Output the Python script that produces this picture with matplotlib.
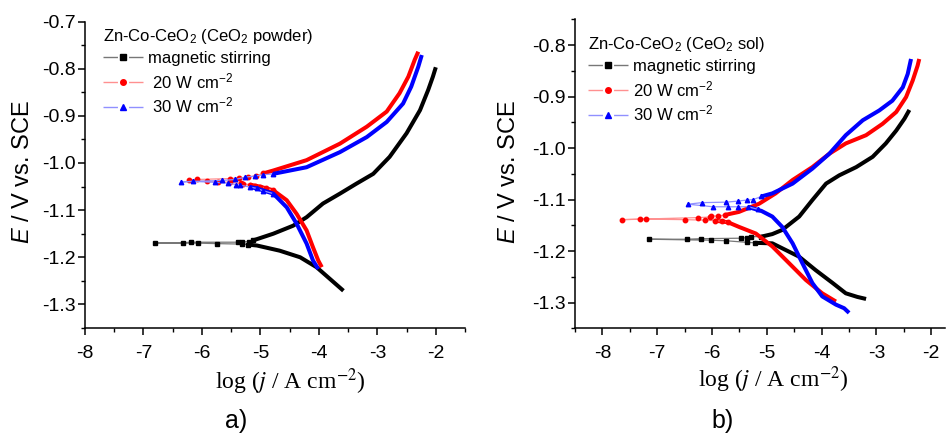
import matplotlib
matplotlib.use("Agg")
import matplotlib.pyplot as plt
from matplotlib.lines import Line2D
from matplotlib.ticker import MultipleLocator, FormatStrFormatter

plt.rcParams['font.family'] = ['Liberation Sans', 'DejaVu Sans']
plt.rcParams['axes.unicode_minus'] = False
plt.rcParams['mathtext.fontset'] = 'custom'
plt.rcParams['mathtext.rm'] = 'Liberation Sans'
plt.rcParams['mathtext.it'] = 'Liberation Sans:italic'
plt.rcParams['mathtext.bf'] = 'Liberation Sans:bold'

# ---- a) CeO2 powder : log j vs E ----
# magnetic stirring
a_stir_cath_x = [-3.58, -3.81, -4.04, -4.32, -4.67, -5.06, -5.22]
a_stir_cath_y = [-1.271, -1.246, -1.221, -1.200, -1.186, -1.175, -1.173]
a_stir_pts_x = [-5.22, -5.32, -5.75, -6.07, -6.80, -6.32, -6.19, -5.39, -5.32, -5.19, -5.12]
a_stir_pts_y = [-1.173, -1.172, -1.171, -1.170, -1.170, -1.169, -1.168, -1.168, -1.167, -1.167, -1.164]
a_stir_anod_x = [-5.12, -4.78, -4.44, -4.21, -3.93, -3.64, -3.36, -3.07, -2.79, -2.50,
                 -2.27, -2.13, -2.05, -2.00]
a_stir_anod_y = [-1.164, -1.150, -1.133, -1.115, -1.086, -1.065, -1.044, -1.023, -0.987, -0.937,
                 -0.888, -0.845, -0.817, -0.797]
# 20 W cm-2
a_20_cath_x = [-3.95, -4.01, -4.10, -4.21, -4.38, -4.55, -4.78, -5.01, -5.18]
a_20_cath_y = [-1.221, -1.207, -1.179, -1.143, -1.108, -1.079, -1.058, -1.050, -1.046]
a_20_pts_x = [-4.78, -4.90, -5.01, -5.10, -5.18, -5.29, -5.34, -5.52, -5.72, -5.92, -6.23,
              -6.08, -5.52, -5.36, -5.21, -5.08, -4.95]
a_20_pts_y = [-1.058, -1.054, -1.050, -1.048, -1.046, -1.044, -1.043, -1.041, -1.040, -1.039, -1.037,
              -1.035, -1.033, -1.032, -1.030, -1.027, -1.022]
a_20_anod_x = [-4.95, -4.78, -4.21, -3.64, -3.18, -2.84, -2.62, -2.47, -2.36, -2.30]
a_20_anod_y = [-1.022, -1.016, -0.994, -0.959, -0.923, -0.891, -0.852, -0.817, -0.781, -0.764]
# 30 W cm-2
a_30_cath_x = [-4.01, -4.10, -4.21, -4.38, -4.55, -4.78, -5.06, -5.18]
a_30_cath_y = [-1.225, -1.207, -1.171, -1.129, -1.094, -1.065, -1.054, -1.051]
a_30_pts_x = [-4.78, -4.95, -5.06, -5.18, -5.35, -5.41, -5.55, -5.78, -6.15, -6.35,
              -5.65, -5.43, -5.26, -5.10, -4.95, -4.78]
a_30_pts_y = [-1.065, -1.059, -1.054, -1.051, -1.047, -1.046, -1.043, -1.041, -1.039, -1.040,
              -1.037, -1.035, -1.030, -1.028, -1.025, -1.023]
a_30_anod_x = [-4.78, -4.21, -3.64, -3.18, -2.84, -2.56, -2.42, -2.30, -2.24]
a_30_anod_y = [-1.023, -1.009, -0.977, -0.945, -0.913, -0.874, -0.838, -0.796, -0.771]

# ---- b) CeO2 sol ----
b_stir_cath_x = [-3.19, -3.35, -3.56, -3.80, -4.11, -4.41, -4.90, -5.22]
b_stir_cath_y = [-1.293, -1.289, -1.282, -1.262, -1.237, -1.211, -1.185, -1.184]
b_stir_pts_x = [-5.22, -5.37, -5.74, -6.01, -7.15, -6.46, -6.21, -5.47, -5.37, -5.28, -5.10]
b_stir_pts_y = [-1.184, -1.183, -1.180, -1.179, -1.177, -1.177, -1.176, -1.175, -1.174, -1.172, -1.172]
b_stir_anod_x = [-5.10, -4.90, -4.72, -4.41, -4.17, -3.92, -3.68, -3.37, -3.07, -2.83,
                 -2.64, -2.49, -2.40]
b_stir_anod_y = [-1.172, -1.167, -1.159, -1.133, -1.101, -1.069, -1.053, -1.037, -1.017, -0.991,
                 -0.966, -0.943, -0.926]

b_20_cath_x = [-3.74, -3.99, -4.29, -4.59, -4.90, -5.20, -5.51, -5.71, -5.95]
b_20_cath_y = [-1.298, -1.282, -1.256, -1.224, -1.191, -1.166, -1.153, -1.144, -1.141]
b_20_pts_x = [-5.71, -5.82, -5.95, -6.13, -6.49, -7.21, -7.65, -7.31, -6.26, -6.04, -6.01, -5.89, -5.77]
b_20_pts_y = [-1.144, -1.142, -1.141, -1.140, -1.139, -1.138, -1.139, -1.138, -1.135, -1.134, -1.132,
              -1.132, -1.130]
b_20_anod_x = [-5.77, -5.51, -5.14, -4.84, -4.53, -4.17, -3.86, -3.56, -3.19, -2.89,
               -2.64, -2.46, -2.34, -2.25, -2.22]
b_20_anod_y = [-1.130, -1.124, -1.108, -1.088, -1.062, -1.037, -1.011, -0.991, -0.975, -0.953,
               -0.930, -0.901, -0.869, -0.840, -0.827]

b_30_cath_x = [-3.50, -3.59, -3.74, -3.99, -4.17, -4.35, -4.53, -4.72, -4.90, -5.10, -5.26, -5.34]
b_30_cath_y = [-1.320, -1.311, -1.304, -1.288, -1.262, -1.224, -1.185, -1.153, -1.133, -1.122, -1.117, -1.114]
b_30_pts_x = [-5.16, -5.34, -5.53, -5.71, -5.98, -6.44, -6.19, -5.74, -5.53, -5.37, -5.25, -5.10]
b_30_pts_y = [-1.119, -1.114, -1.114, -1.114, -1.114, -1.109, -1.106, -1.105, -1.103, -1.101, -1.100, -1.094]
b_30_anod_x = [-5.10, -4.90, -4.53, -4.17, -3.86, -3.56, -3.25, -2.95, -2.71, -2.52, -2.43, -2.37]
b_30_anod_y = [-1.094, -1.088, -1.069, -1.040, -1.011, -0.975, -0.946, -0.927, -0.908, -0.882, -0.856, -0.827]

labels_a = ["magnetic stirring", " 20 W cm$^{-2}$", " 30 W cm$^{-2}$"]
labels_b = ["magnetic stirring", "20 W cm$^{-2}$", "30 W cm$^{-2}$"]
colors = ["black", "red", "blue"]
light = ["#777777", "#ff9090", "#9090ff"]
markers = ["s", "o", "^"]

series_a = [
    (a_stir_cath_x, a_stir_cath_y, a_stir_pts_x, a_stir_pts_y, a_stir_anod_x, a_stir_anod_y),
    (a_20_cath_x, a_20_cath_y, a_20_pts_x, a_20_pts_y, a_20_anod_x, a_20_anod_y),
    (a_30_cath_x, a_30_cath_y, a_30_pts_x, a_30_pts_y, a_30_anod_x, a_30_anod_y),
]
series_b = [
    (b_stir_cath_x, b_stir_cath_y, b_stir_pts_x, b_stir_pts_y, b_stir_anod_x, b_stir_anod_y),
    (b_20_cath_x, b_20_cath_y, b_20_pts_x, b_20_pts_y, b_20_anod_x, b_20_anod_y),
    (b_30_cath_x, b_30_cath_y, b_30_pts_x, b_30_pts_y, b_30_anod_x, b_30_anod_y),
]


def draw_panel(ax, series, labels, title, xlim, ylim, leg_xy):
    for (cx, cy, px, py, ax_, ay), c, lc, m in zip(series, colors, light, markers):
        ax.plot(cx, cy, color=c, lw=2.9, solid_capstyle='butt', solid_joinstyle='round')
        ax.plot(ax_, ay, color=c, lw=2.9, solid_capstyle='butt', solid_joinstyle='round')
        ax.plot(px, py, color=lc, lw=0.9, marker=m, ms=3.2, mfc=c, mec=c)
    ax.set_xlim(*xlim)
    ax.set_ylim(*ylim)
    ax.xaxis.set_major_locator(MultipleLocator(1))
    ax.xaxis.set_minor_locator(MultipleLocator(0.5))
    ax.yaxis.set_major_locator(MultipleLocator(0.1))
    ax.yaxis.set_minor_locator(MultipleLocator(0.05))
    ax.xaxis.set_major_formatter(FormatStrFormatter('%d'))
    ax.yaxis.set_major_formatter(FormatStrFormatter('%.1f'))
    for side in ['top', 'right']:
        ax.spines[side].set_visible(False)
    for side in ['left', 'bottom']:
        ax.spines[side].set_linewidth(1.1)
    ax.tick_params(which='major', direction='out', length=5, width=1.1, labelsize=14)
    ax.tick_params(which='minor', direction='out', length=3, width=1.0)
    ax.tick_params(axis='x', which='major', pad=7)
    ax.tick_params(axis='y', which='major', pad=2)

    # legend sample: short line, gap, marker, gap, short line
    handles = [Line2D([], [], color=lc, lw=1.0, ls=(0, (10.4, 8.0)), marker=m, ms=4,
                      mfc=c, mec=c)
               for c, lc, m in zip(colors, light, markers)]
    ax.legend(handles, labels, title=title, loc='upper left', bbox_to_anchor=leg_xy,
              frameon=False, fontsize=12, title_fontsize=12, alignment='left',
              handlelength=2.4, handletextpad=0.3, labelspacing=0.3,
              borderpad=0, borderaxespad=0)


fig = plt.figure(figsize=(9.51, 4.34), dpi=100)
ax_a = fig.add_axes([0.0894, 0.2442, 0.3996, 0.7062])
ax_b = fig.add_axes([0.6046, 0.2435, 0.3891, 0.7120])

draw_panel(ax_a, series_a, labels_a, "Zn-Co-CeO$_2$ (CeO$_2$ powder)",
           (-8, -1.5), (-1.35, -0.7), (0.047, 0.982))
draw_panel(ax_b, series_b, labels_b, "Zn-Co-CeO$_2$ (CeO$_2$ sol)",
           (-8.5, -1.75), (-1.35, -0.75), (0.036, 0.949))

# axis titles and panel letters
xlab = "log ($j$ / A cm$^{-2}$)"
ylab = "$E$ / V vs. SCE"
for xc, yc in [(290, 382), (773, 380)]:
    fig.text(xc / 951, 1 - yc / 434, xlab, ha='center', va='center', fontsize=17,
             family='Liberation Serif', math_fontfamily='stix')
for xc, yc in [(23, 172), (509, 172)]:
    fig.text(xc / 951, 1 - yc / 434, ylab, ha='center', va='center', rotation=90, fontsize=17)
fig.text(236 / 951, 1 - 421 / 434, "a)", ha='center', va='center', fontsize=18)
fig.text(723 / 951, 1 - 421 / 434, "b)", ha='center', va='center', fontsize=18)

fig.savefig("out.png", dpi=100)
plt.close(fig)
